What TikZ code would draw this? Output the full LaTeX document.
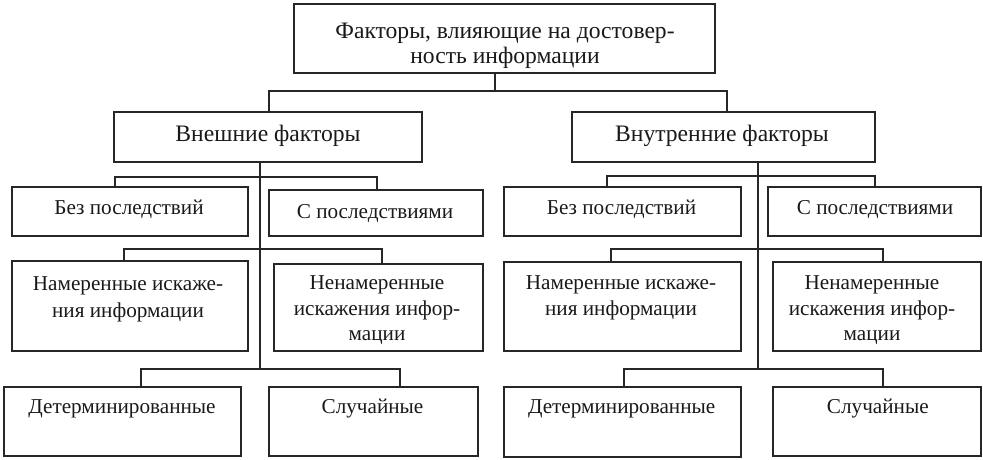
\documentclass[tikz,border=0pt]{standalone}
\usepackage{fontspec}
\setmainfont{Liberation Serif}
\begin{document}
\begin{tikzpicture}[x=1pt,y=-1pt,
  box/.style={draw=black!85,line width=1.2pt,inner sep=0pt,fill=none},
  txt/.style={anchor=base,inner sep=0pt,font=\fontsize{21.2}{25}\selectfont,text=black!90},
  bigtxt/.style={txt,font=\fontsize{23.6}{28}\selectfont},
  conn/.style={draw=black!85,line width=1.2pt}]
\useasboundingbox (0,0) rectangle (983,459);
% boxes
\node[box,minimum width=421pt,minimum height=69pt] (top) at (504.5,38.5) {};
\node[box,minimum width=308pt,minimum height=50pt] (ext) at (268,137) {};
\node[box,minimum width=303pt,minimum height=50pt] (int) at (723.5,137) {};
\node[box,minimum width=236pt,minimum height=49pt] (L1) at (130,211.5) {};
\node[box,minimum width=214pt,minimum height=46pt] (L2) at (376,213) {};
\node[box,minimum width=236pt,minimum height=90pt] (L3) at (130,306) {};
\node[box,minimum width=209pt,minimum height=87pt] (L4) at (378.5,307.5) {};
\node[box,minimum width=237pt,minimum height=69pt] (L5) at (122.5,421.5) {};
\node[box,minimum width=209pt,minimum height=69pt] (L6) at (373.5,421.5) {};
\node[box,minimum width=237pt,minimum height=49pt] (R1) at (622.5,211.5) {};
\node[box,minimum width=213pt,minimum height=49pt] (R2) at (874.5,211.5) {};
\node[box,minimum width=237pt,minimum height=89pt] (R3) at (622.5,306.5) {};
\node[box,minimum width=208pt,minimum height=89pt] (R4) at (877,306.5) {};
\node[box,minimum width=237pt,minimum height=70pt] (R5) at (622.5,422) {};
\node[box,minimum width=208pt,minimum height=69pt] (R6) at (877,421.5) {};
% texts
\node[bigtxt] (topa) at (505,38) {Факторы, влияющие на достовер-};
\node[bigtxt] (topb) at (505,63) {ность информации};
\node[bigtxt] (extt) at (268,141) {Внешние факторы};
\node[bigtxt] (intt) at (722,141) {Внутренние факторы};
\node[txt] (L1t) at (129,214) {Без последствий};
\node[txt] (L2t) at (375,218) {С последствиями};
\node[txt] (L3a) at (128,290) {Намеренные искаже-};
\node[txt] (L3b) at (128,317) {ния информации};
\node[txt] (L4a) at (377,289) {Ненамеренные};
\node[txt] (L4b) at (377,315) {искажения инфор-};
\node[txt] (L4c) at (377,340) {мации};
\node[txt] (L5t) at (122,413) {Детерминированные};
\node[txt] (L6t) at (372.5,413) {Случайные};
\node[txt] (R1t) at (621.5,214) {Без последствий};
\node[txt] (R2t) at (875,214) {С последствиями};
\node[txt] (R3a) at (621,289) {Намеренные искаже-};
\node[txt] (R3b) at (621,315) {ния информации};
\node[txt] (R4a) at (872,289) {Ненамеренные};
\node[txt] (R4b) at (872,315) {искажения инфор-};
\node[txt] (R4c) at (872,340) {мации};
\node[txt] (R5t) at (621.7,413) {Детерминированные};
\node[txt] (R6t) at (877.8,413) {Случайные};
% junction coordinates
\coordinate (jt) at (495,91);
\coordinate (jl) at (260,369);
\coordinate (jr) at (758,369);
% top connectors
\draw[conn] (top.south -| jt) -- (jt);
\draw[conn] (ext.north -| 269,0) |- (jt) -| (int.north -| 727,0);
% left trunk
\draw[conn] (ext.south -| jl) -- (jl);
\draw[conn] (L1.north -| 115,0) |- (260,177) -| (L2.north -| 377,0);
\draw[conn] (L3.north -| 124,0) |- (260,249) -| (L4.north -| 382,0);
\draw[conn] (L5.north -| 141,0) |- (jl) -| (L6.north -| 400,0);
% right trunk
\draw[conn] (int.south -| jr) -- (jr);
\draw[conn] (R1.north -| 607,0) |- (758,176) -| (R2.north -| 875,0);
\draw[conn] (R3.north -| 611,0) |- (758,249) -| (R4.north -| 883,0);
\draw[conn] (R5.north -| 624,0) |- (jr) -| (R6.north -| 883,0);
\end{tikzpicture}
\end{document}
